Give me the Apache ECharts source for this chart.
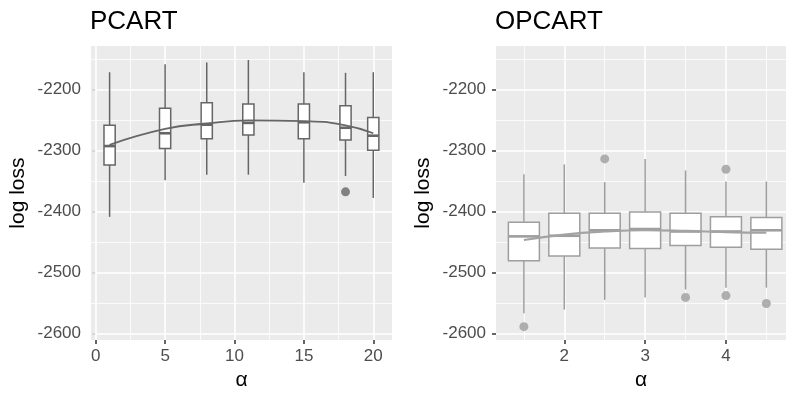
<!DOCTYPE html>
<html>
<head>
<meta charset="utf-8">
<script src="https://cdn.jsdelivr.net/npm/echarts@6/dist/echarts.min.js"></script>
<style>html,body{margin:0;padding:0;background:#fff}#c{width:786px;height:396px}</style>
</head>
<body>
<div id="c"></div>
<script>
// ---- data: PCART (left panel) ----
const leftX = [1, 5, 8, 11, 15, 18, 20];
const leftMin = [-2409, -2349, -2340, -2340, -2353, -2342, -2378];
const leftQ1 = [-2324, -2297, -2281, -2275, -2281, -2283, -2300];
const leftMed = [-2293, -2272, -2258, -2255, -2254, -2263, -2276];
const leftQ3 = [-2259, -2231, -2222, -2224, -2224, -2227, -2246];
const leftMax = [-2172, -2159, -2156, -2152, -2172, -2173, -2172];
const leftOutX = [18];
const leftOutY = [-2368];
const leftSmooth = [-2291, -2265, -2256, -2251, -2252, -2259, -2272];

// ---- data: OPCART (right panel) ----
const rightX = [1.5, 2, 2.5, 3, 3.5, 4, 4.5];
const rightMin = [-2567, -2561, -2545, -2541, -2528, -2525, -2525];
const rightQ1 = [-2481, -2473, -2460, -2461, -2456, -2459, -2462];
const rightMed = [-2441, -2440, -2431, -2429, -2433, -2433, -2431];
const rightQ3 = [-2418, -2403, -2403, -2401, -2403, -2409, -2410];
const rightMax = [-2339, -2323, -2352, -2314, -2333, -2351, -2351];
const rightOutX = [1.5, 2.5, 3.5, 4, 4, 4.5];
const rightOutY = [-2589, -2314, -2541, -2331, -2538, -2551];
const rightSmooth = [-2447, -2438, -2433, -2431, -2432, -2434, -2435];

// ---- tick labels ----
const yTicks = [-2600, -2500, -2400, -2300, -2200];
const yMinor = [-2550, -2450, -2350, -2250, -2150];
const leftXTicks = [0, 5, 10, 15, 20];
const leftXMinor = [2.5, 7.5, 12.5, 17.5];
const rightXTicks = [2, 3, 4];
const rightXMinor = [1.5, 2.5, 3.5, 4.5];

const FONT = 'Liberation Sans, Arial, sans-serif';
const tickColor = '#4d4d4d';

function boxData(xs, mn, q1, md, q3, mx) {
  return xs.map((x, i) => [x, mn[i], q1[i], md[i], q3[i], mx[i]]);
}
function pairs(xs, ys) { return xs.map((x, i) => [x, ys[i]]); }

function gridSeries(xi, xMaj, xMin, yMaj, yMin) {
  const mk = (arr, key, w) => arr.map(v => ({ [key]: v, lineStyle: { width: w, color: '#ffffff', type: 'solid' } }));
  return {
    type: 'line', xAxisIndex: xi, yAxisIndex: xi, data: [], silent: true, z: 1,
    markLine: {
      silent: true, z: 1, symbol: ['none', 'none'], animation: false,
      label: { show: false },
      data: [].concat(mk(xMin, 'xAxis', 0.8), mk(yMin, 'yAxis', 0.8), mk(xMaj, 'xAxis', 1.6), mk(yMaj, 'yAxis', 1.6))
    }
  };
}

function boxSeries(xi, data, halfW, color) {
  return {
    type: 'custom', xAxisIndex: xi, yAxisIndex: xi, z: 3,
    encode: { x: 0, y: [1, 2, 3, 4, 5] },
    data: data,
    renderItem: function (params, api) {
      const x = api.value(0);
      const pMin = api.coord([x, api.value(1)]);
      const pQ1 = api.coord([x, api.value(2)]);
      const pMed = api.coord([x, api.value(3)]);
      const pQ3 = api.coord([x, api.value(4)]);
      const pMax = api.coord([x, api.value(5)]);
      const cx = pMed[0];
      const st = { stroke: color, lineWidth: 1.5, fill: null };
      return {
        type: 'group',
        children: [
          { type: 'line', shape: { x1: cx, y1: pMax[1], x2: cx, y2: pQ3[1] }, style: st },
          { type: 'line', shape: { x1: cx, y1: pQ1[1], x2: cx, y2: pMin[1] }, style: st },
          { type: 'rect', shape: { x: cx - halfW, y: pQ3[1], width: 2 * halfW, height: pQ1[1] - pQ3[1] },
            style: { fill: '#ffffff', stroke: color, lineWidth: 1.5 } },
          { type: 'line', shape: { x1: cx - halfW, y1: pMed[1], x2: cx + halfW, y2: pMed[1] },
            style: { stroke: color, lineWidth: 2.6 } }
        ]
      };
    }
  };
}

function xAxisCfg(gi, min, max, ticks) {
  return {
    type: 'value', gridIndex: gi, min: min, max: max,
    name: 'α', nameLocation: 'middle', nameGap: 22,
    nameTextStyle: { fontSize: 21, color: '#000', fontFamily: FONT },
    axisLine: { show: false },
    splitLine: { show: false },
    axisTick: { show: true, length: 4, customValues: ticks, lineStyle: { color: '#333', width: 1.5 } },
    axisLabel: { customValues: ticks, margin: 8, fontSize: 17, color: tickColor, fontFamily: FONT,
      formatter: v => String(v) }
  };
}
function yAxisCfg(gi) {
  return {
    type: 'value', gridIndex: gi, min: -2611, max: -2129,
    name: 'log loss', nameLocation: 'middle', nameGap: 62,
    nameTextStyle: { fontSize: 21, color: '#000', fontFamily: FONT },
    axisLine: { show: false },
    splitLine: { show: false },
    axisTick: { show: true, length: 4, customValues: yTicks, lineStyle: { color: '#333', width: 1.5 } },
    axisLabel: { customValues: yTicks, margin: 10, fontSize: 17, color: tickColor, fontFamily: FONT,
      formatter: v => String(v) }
  };
}

const chart = echarts.init(document.getElementById('c'), null, { renderer: 'canvas' });
chart.setOption({
  animation: false,
  backgroundColor: '#ffffff',
  title: [
    { text: 'PCART', left: 90, top: 9, padding: 0, textStyle: { fontSize: 26, fontWeight: 'normal', color: '#000', fontFamily: FONT } },
    { text: 'OPCART', left: 495, top: 9, padding: 0, textStyle: { fontSize: 26, fontWeight: 'normal', color: '#000', fontFamily: FONT } }
  ],
  grid: [
    { left: 91, top: 46, width: 301, height: 307, show: true, backgroundColor: '#EBEBEB', borderWidth: 0 },
    { left: 496, top: 46, width: 290, height: 307, show: true, backgroundColor: '#EBEBEB', borderWidth: 0 }
  ],
  xAxis: [xAxisCfg(0, -0.34, 21.35, leftXTicks), xAxisCfg(1, 1.155, 4.743, rightXTicks)],
  yAxis: [yAxisCfg(0), yAxisCfg(1)],
  series: [
    gridSeries(0, leftXTicks, leftXMinor, yTicks, yMinor),
    gridSeries(1, rightXTicks, rightXMinor, yTicks, yMinor),
    boxSeries(0, boxData(leftX, leftMin, leftQ1, leftMed, leftQ3, leftMax), 5.6, '#666666'),
    {
      type: 'scatter', xAxisIndex: 0, yAxisIndex: 0, z: 4, symbolSize: 9,
      itemStyle: { color: '#666666' },
      data: pairs(leftOutX, leftOutY)
    },
    {
      type: 'line', xAxisIndex: 0, yAxisIndex: 0, z: 5, smooth: 0.5, showSymbol: false,
      lineStyle: { color: '#666666', width: 1.8 },
      data: pairs(leftX, leftSmooth)
    },
    boxSeries(1, boxData(rightX, rightMin, rightQ1, rightMed, rightQ3, rightMax), 15.5, '#9e9e9e'),
    {
      type: 'scatter', xAxisIndex: 1, yAxisIndex: 1, z: 4, symbolSize: 9,
      itemStyle: { color: '#9e9e9e' },
      data: pairs(rightOutX, rightOutY)
    },
    {
      type: 'line', xAxisIndex: 1, yAxisIndex: 1, z: 5, smooth: 0.5, showSymbol: false,
      lineStyle: { color: '#a3a3a3', width: 2.2 },
      data: pairs(rightX, rightSmooth)
    }
  ]
});
</script>
</body>
</html>
